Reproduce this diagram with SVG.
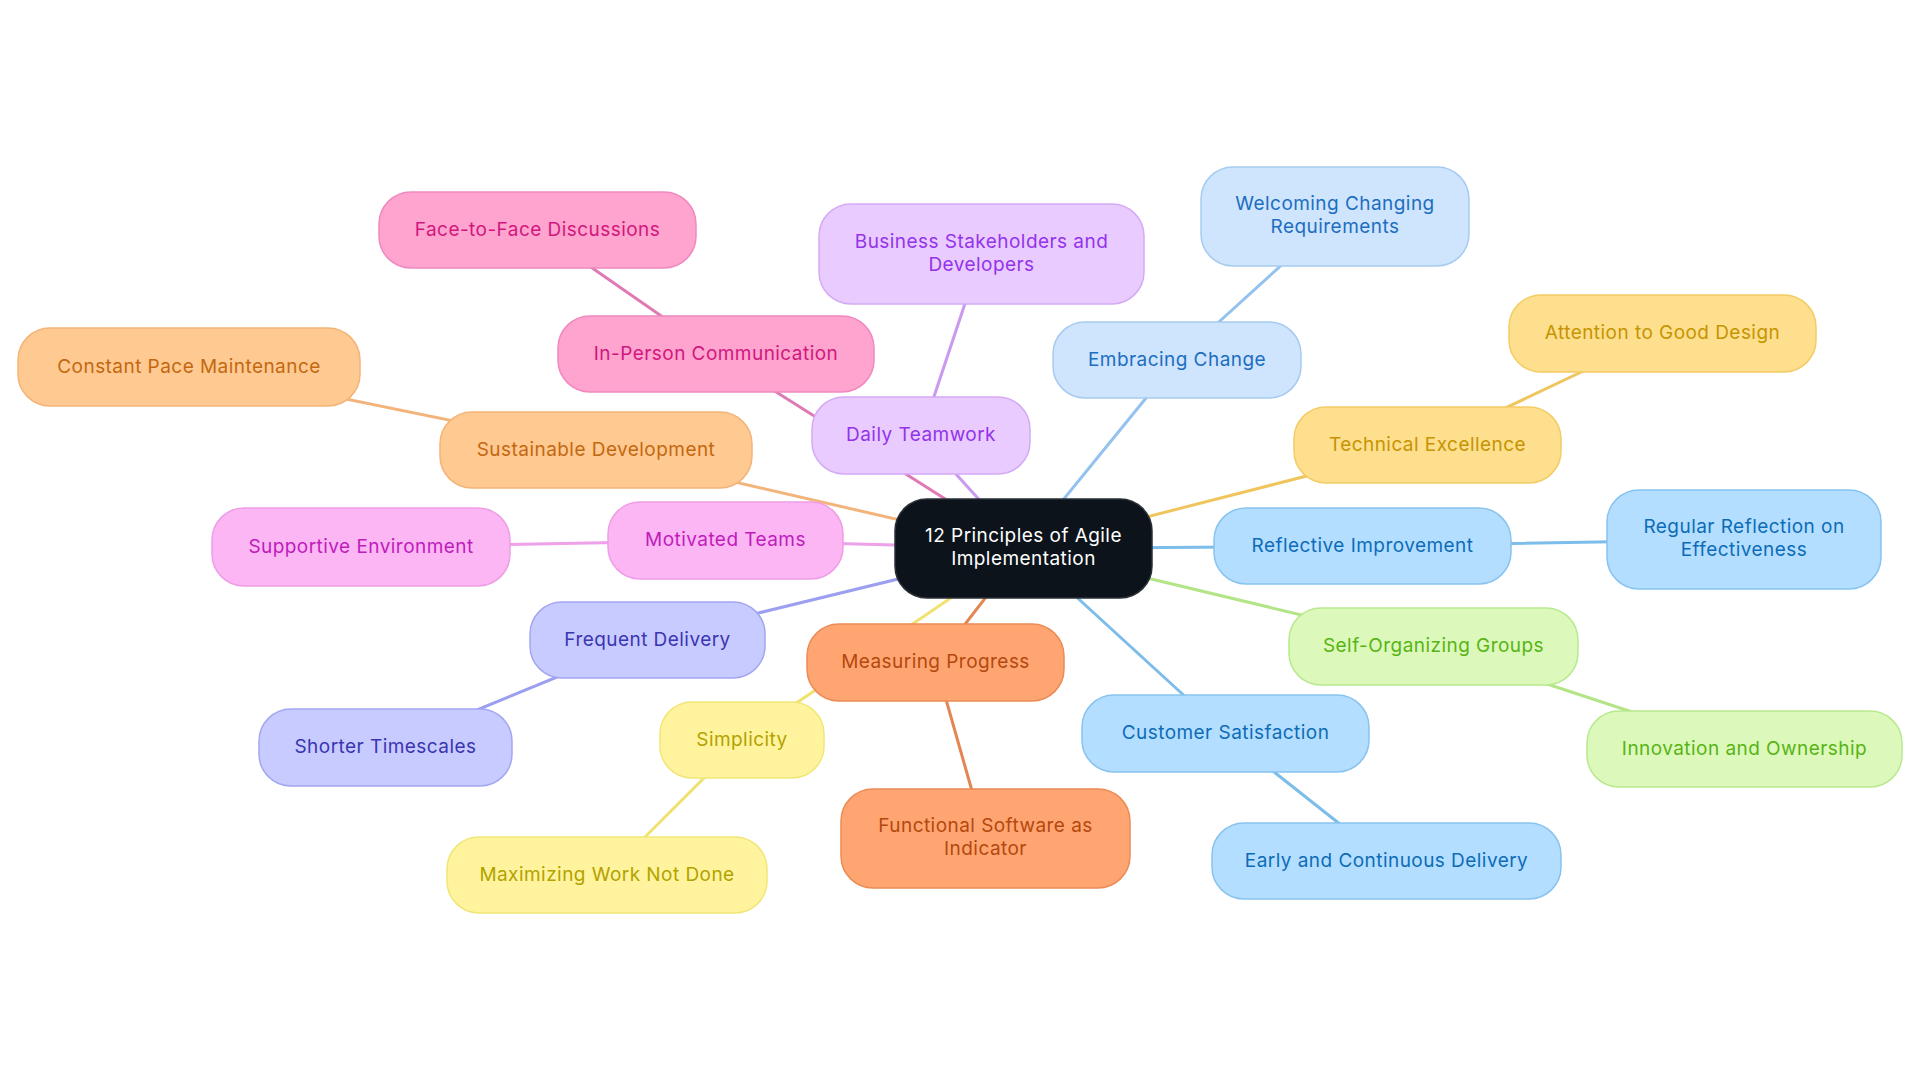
<svg xmlns="http://www.w3.org/2000/svg" width="1920" height="1083" viewBox="0 0 1920 1083">
<style>
text{font-family:Inter,"Noto Sans","Liberation Sans",sans-serif;font-size:19px;letter-spacing:0.45px;text-anchor:middle}
rect{stroke-width:1.5}
.edges line{stroke-width:3;stroke-linecap:round}
.root rect{fill:#0c131a;stroke:#2a3038}.root text{fill:#ffffff}
.pink rect{fill:#ffa3cf;stroke:#ef89bf}.pink text{fill:#d1177d}
.peach rect{fill:#ffc992;stroke:#f3b478}.peach text{fill:#c4680f}
.mag rect{fill:#fbb6f3;stroke:#ee9de6}.mag text{fill:#c01cbc}
.purp rect{fill:#e9cbff;stroke:#d4aaf5}.purp text{fill:#9333ea}
.lblue rect{fill:#cfe4fd;stroke:#a6cbf0}.lblue text{fill:#1c6ec0}
.yel rect{fill:#fddf8e;stroke:#f3cc64}.yel text{fill:#c69400}
.blue rect{fill:#b3deff;stroke:#88c3ef}.blue text{fill:#0d6cb8}
.green rect{fill:#dcf9bb;stroke:#b8e98f}.green text{fill:#58b414}
.indigo rect{fill:#c8cbff;stroke:#a3a7f0}.indigo text{fill:#3b35b0}
.orange rect{fill:#ffa572;stroke:#eb8b55}.orange text{fill:#b4480e}
.lyel rect{fill:#fff49d;stroke:#f0e677}.lyel text{fill:#b3a200}
</style>
<rect width="1920" height="1083" fill="#ffffff" stroke="none"/>
<g id="connectors" class="edges">
<line x1="1023.5" y1="548.5" x2="596" y2="450" stroke="#f3b47b"/>
<line x1="596" y1="450" x2="189" y2="367" stroke="#f3b47b"/>
<line x1="1023.5" y1="548.5" x2="716" y2="354" stroke="#e07ab5"/>
<line x1="716" y1="354" x2="537.5" y2="230" stroke="#e07ab5"/>
<line x1="1023.5" y1="548.5" x2="921" y2="435.5" stroke="#c99af0"/>
<line x1="921" y1="435.5" x2="981.5" y2="254" stroke="#c99af0"/>
<line x1="1023.5" y1="548.5" x2="1177" y2="360" stroke="#93c2ee"/>
<line x1="1177" y1="360" x2="1335" y2="216.5" stroke="#93c2ee"/>
<line x1="1023.5" y1="548.5" x2="1427.5" y2="445" stroke="#efc65e"/>
<line x1="1427.5" y1="445" x2="1662.5" y2="333.5" stroke="#efc65e"/>
<line x1="1023.5" y1="548.5" x2="1362.5" y2="546" stroke="#7cbde9"/>
<line x1="1362.5" y1="546" x2="1744" y2="539.5" stroke="#7cbde9"/>
<line x1="1023.5" y1="548.5" x2="1433.5" y2="646.5" stroke="#b3e487"/>
<line x1="1433.5" y1="646.5" x2="1744.5" y2="749" stroke="#b3e487"/>
<line x1="1023.5" y1="548.5" x2="1225.5" y2="733.5" stroke="#7cbde9"/>
<line x1="1225.5" y1="733.5" x2="1386.5" y2="861" stroke="#7cbde9"/>
<line x1="1023.5" y1="548.5" x2="935.5" y2="662.5" stroke="#e48654"/>
<line x1="935.5" y1="662.5" x2="985.5" y2="838.5" stroke="#e48654"/>
<line x1="1023.5" y1="548.5" x2="742" y2="740" stroke="#f0e272"/>
<line x1="742" y1="740" x2="607" y2="875" stroke="#f0e272"/>
<line x1="1023.5" y1="548.5" x2="647.5" y2="640" stroke="#9c9ff0"/>
<line x1="647.5" y1="640" x2="385.5" y2="747.5" stroke="#9c9ff0"/>
<line x1="1023.5" y1="548.5" x2="725.5" y2="540.5" stroke="#eea0e8"/>
<line x1="725.5" y1="540.5" x2="361" y2="547" stroke="#eea0e8"/>
</g>
<g id="n-face" class="pink"><rect x="379" y="192" width="317" height="76" rx="32"/><text x="537.5" y="235.5">Face-to-Face Discussions</text></g>
<g id="n-inperson" class="pink"><rect x="558" y="316" width="316" height="76" rx="32"/><text x="716" y="359.5">In-Person Communication</text></g>
<g id="n-constpace" class="peach"><rect x="18" y="328" width="342" height="78" rx="32"/><text x="189" y="372.5">Constant Pace Maintenance</text></g>
<g id="n-sustain" class="peach"><rect x="440" y="412" width="312" height="76" rx="32"/><text x="596" y="455.5">Sustainable Development</text></g>
<g id="n-supportive" class="mag"><rect x="212" y="508" width="298" height="78" rx="32"/><text x="361" y="552.5">Supportive Environment</text></g>
<g id="n-motivated" class="mag"><rect x="608" y="502" width="235" height="77" rx="32"/><text x="725.5" y="546">Motivated Teams</text></g>
<g id="n-business" class="purp"><rect x="819" y="204" width="325" height="100" rx="32"/><text x="981.5" y="247.5">Business Stakeholders and</text><text x="981.5" y="270.5">Developers</text></g>
<g id="n-daily" class="purp"><rect x="812" y="397" width="218" height="77" rx="32"/><text x="921" y="441">Daily Teamwork</text></g>
<g id="n-welcoming" class="lblue"><rect x="1201" y="167" width="268" height="99" rx="32"/><text x="1335" y="210">Welcoming Changing</text><text x="1335" y="233">Requirements</text></g>
<g id="n-embracing" class="lblue"><rect x="1053" y="322" width="248" height="76" rx="32"/><text x="1177" y="365.5">Embracing Change</text></g>
<g id="n-attention" class="yel"><rect x="1509" y="295" width="307" height="77" rx="32"/><text x="1662.5" y="339">Attention to Good Design</text></g>
<g id="n-technical" class="yel"><rect x="1294" y="407" width="267" height="76" rx="32"/><text x="1427.5" y="450.5">Technical Excellence</text></g>
<g id="n-reflective" class="blue"><rect x="1214" y="508" width="297" height="76" rx="32"/><text x="1362.5" y="551.5">Reflective Improvement</text></g>
<g id="n-regular" class="blue"><rect x="1607" y="490" width="274" height="99" rx="32"/><text x="1744" y="533">Regular Reflection on</text><text x="1744" y="556">Effectiveness</text></g>
<g id="n-frequent" class="indigo"><rect x="530" y="602" width="235" height="76" rx="32"/><text x="647.5" y="645.5">Frequent Delivery</text></g>
<g id="n-shorter" class="indigo"><rect x="259" y="709" width="253" height="77" rx="32"/><text x="385.5" y="753">Shorter Timescales</text></g>
<g id="n-measuring" class="orange"><rect x="807" y="624" width="257" height="77" rx="32"/><text x="935.5" y="668">Measuring Progress</text></g>
<g id="n-simplicity" class="lyel"><rect x="660" y="702" width="164" height="76" rx="32"/><text x="742" y="745.5">Simplicity</text></g>
<g id="n-maximizing" class="lyel"><rect x="447" y="837" width="320" height="76" rx="32"/><text x="607" y="880.5">Maximizing Work Not Done</text></g>
<g id="n-functional" class="orange"><rect x="841" y="789" width="289" height="99" rx="32"/><text x="985.5" y="832">Functional Software as</text><text x="985.5" y="855">Indicator</text></g>
<g id="n-selforg" class="green"><rect x="1289" y="608" width="289" height="77" rx="32"/><text x="1433.5" y="652">Self-Organizing Groups</text></g>
<g id="n-innovation" class="green"><rect x="1587" y="711" width="315" height="76" rx="32"/><text x="1744.5" y="754.5">Innovation and Ownership</text></g>
<g id="n-customer" class="blue"><rect x="1082" y="695" width="287" height="77" rx="32"/><text x="1225.5" y="739">Customer Satisfaction</text></g>
<g id="n-early" class="blue"><rect x="1212" y="823" width="349" height="76" rx="32"/><text x="1386.5" y="866.5">Early and Continuous Delivery</text></g>
<g id="n-root" class="root"><rect x="895" y="499" width="257" height="99" rx="32"/><text x="1023.5" y="542">12 Principles of Agile</text><text x="1023.5" y="565">Implementation</text></g>
</svg>
